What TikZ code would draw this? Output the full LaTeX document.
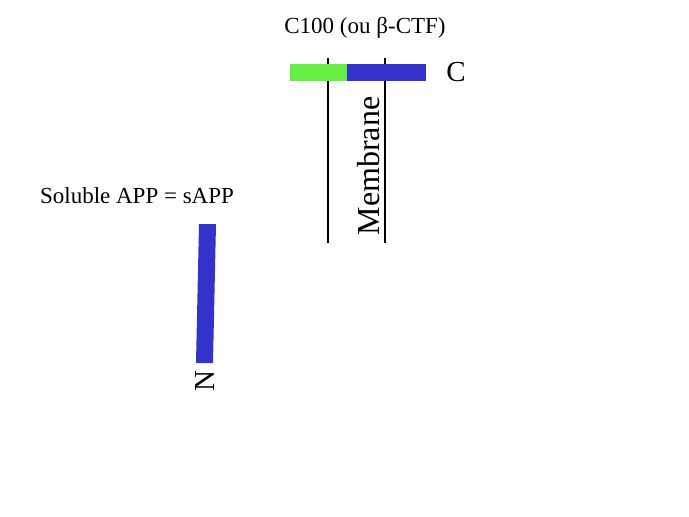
\documentclass[tikz,border=0pt]{standalone}
\usepackage{fontspec}
\setmainfont{Liberation Serif}
\definecolor{appgreen}{RGB}{102,238,68}
\definecolor{appblue}{RGB}{51,51,204}
\begin{document}
\begin{tikzpicture}[x=1pt,y=-1pt]
	\newcommand{\mylabel}[1]{
		\fontsize{23}{26}\selectfont{#1}
	}\newcommand{\myend}[1]{
		\fontsize{29}{32}\selectfont{#1}
	}%Page frame
	\useasboundingbox (0,0) rectangle (689,517);
	%Membrane lines
	\coordinate (memTopL) at (328,58);
	\coordinate (memBotL) at (328,243);
	\coordinate (memTopR) at (385,58);
	\coordinate (memBotR) at (385,243);
	\draw [line width=2pt] (memTopL) -- (memBotL);
	\draw [line width=2pt] (memTopR) -- (memBotR);
	%The C100 fragment
	\fill [appgreen] (290,64) rectangle (347,81);
	\fill [appblue] (347,64) rectangle (426,81);
	\node (title) at (365,28) {\mylabel{C100 (ou β-CTF)}};
	\node (cterm) at (456,72) {\myend{C}};
	\node [rotate=90] (membrane) at (369,166) {\fontsize{32}{36}\selectfont Membrane};
	%Soluble fragment
	\node (soluble) at (137,196) {\mylabel{Soluble APP = sAPP}};
	\fill [appblue] (199,224) -- (216,224) -- (213,363) -- (196,363) -- cycle;
	\node [rotate=90] (nterm) at (205,381) {\myend{N}};
\end{tikzpicture}
\end{document}
